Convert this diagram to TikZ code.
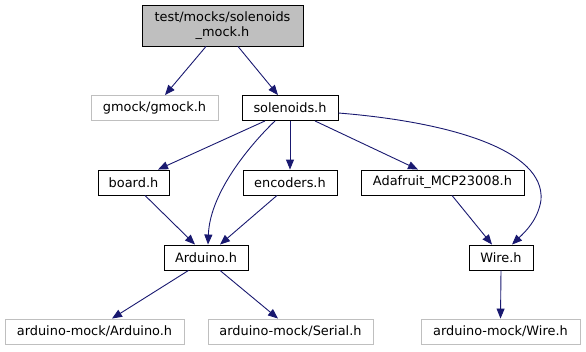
\documentclass[tikz,border=0pt]{standalone}
\usepackage{fontspec}
\setmainfont{DejaVu Sans}
\usetikzlibrary{arrows.meta}
\definecolor{edgeblue}{HTML}{191970}
\definecolor{lightgray}{HTML}{BFBFBF}
\tikzset{
  file/.style={draw=black, line width=0.9pt, rectangle, inner sep=0pt,
    font=\fontsize{12.9}{14.5}\selectfont, anchor=center},
  extfile/.style={file, draw=lightgray},
  mainfile/.style={file, fill=lightgray, align=center},
  dep/.style={draw=edgeblue, line width=0.9pt, -{Triangle[length=10pt,width=8pt]}},
}
\begin{document}
\begin{tikzpicture}[x=1pt, y=-1pt]
  \useasboundingbox (0,0) rectangle (586,351);
  % header nodes
  \node[mainfile, minimum width=161pt, minimum height=41pt] (top) at (222.5,25.5)
    {test/mocks/solenoids\\\_mock.h};
  \node[extfile, minimum width=127pt, minimum height=25pt] (gmock) at (154.5,108) {gmock/gmock.h};
  \node[file, minimum width=96pt, minimum height=25pt] (sol) at (290,108) {solenoids.h};
  \node[file, minimum width=71pt, minimum height=25pt] (board) at (133.5,182.5) {board.h};
  \node[file, minimum width=94pt, minimum height=25pt] (enc) at (290,182.5) {encoders.h};
  \node[file, minimum width=163pt, minimum height=25pt] (ada) at (442.5,182.5) {Adafruit\_MCP23008.h};
  \node[file, minimum width=84pt, minimum height=25pt] (ard) at (206,257.5) {Arduino.h};
  \node[file, minimum width=64pt, minimum height=25pt] (wire) at (501,257.5) {Wire.h};
  \node[extfile, minimum width=179pt, minimum height=25pt] (amard) at (94.5,331.5) {arduino-mock/Arduino.h};
  \node[extfile, minimum width=165pt, minimum height=25pt] (amser) at (290.5,331.5) {arduino-mock/Serial.h};
  \node[extfile, minimum width=159pt, minimum height=25pt] (amwire) at (500.5,331.5) {arduino-mock/Wire.h};

  % include edges
  \draw[dep] ([xshift=-16.5pt]top.south) -- ([xshift=10.5pt]gmock.north);
  \draw[dep] ([xshift=15.5pt]top.south) -- ([xshift=-12pt]sol.north);
  \draw[dep] ([xshift=-25pt]sol.south) -- ([xshift=24.5pt]board.north);
  \draw[dep] ([xshift=-15pt]sol.south) .. controls (255,140) and (210,190) .. ([xshift=2pt]ard.north);
  \draw[dep] (sol.south) -- (enc.north);
  \draw[dep] ([xshift=25pt]sol.south) -- ([xshift=-24.5pt]ada.north);
  \draw[dep] ([yshift=-5pt]sol.east) .. controls (450,122) and (545,150) .. (541,200)
    .. controls (538,220) and (525,232) .. ([xshift=11pt]wire.north);
  \draw[dep] ([xshift=11.5pt]board.south) -- ([xshift=-11pt]ard.north);
  \draw[dep] ([xshift=-13pt]enc.south) -- ([xshift=14pt]ard.north);
  \draw[dep] ([xshift=9.5pt]ada.south) -- ([xshift=-9pt]wire.north);
  \draw[dep] ([xshift=-17.5pt]ard.south) -- ([xshift=17.5pt]amard.north);
  \draw[dep] ([xshift=14pt]ard.south) -- ([xshift=-12.5pt]amser.north);
  \draw[dep] (wire.south) -- (amwire.north);
\end{tikzpicture}
\end{document}
